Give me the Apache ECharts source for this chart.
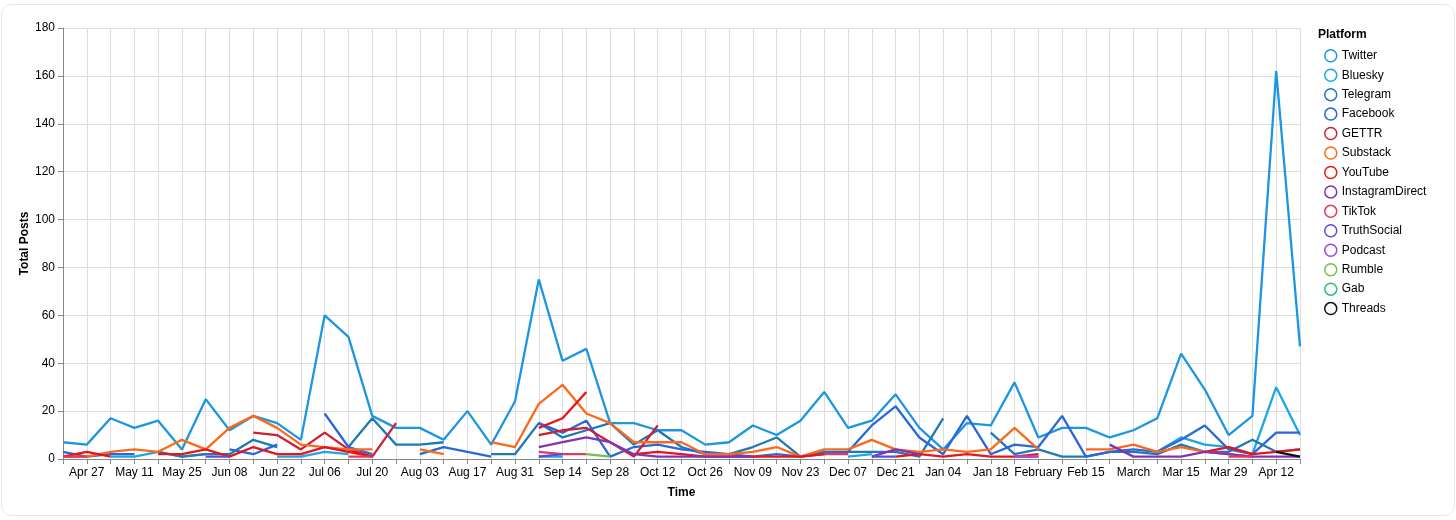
<!DOCTYPE html>
<html>
<head>
<meta charset="utf-8">
<script src="https://cdn.jsdelivr.net/npm/echarts@6/dist/echarts.min.js"></script>
<style>
  html, body { margin: 0; padding: 0; background: #fff; }
  #frame { position: absolute; left: 1px; top: 4px; width: 1452px; height: 510px; border: 1px solid #e4e4ee; border-radius: 10px; }
  #chart { position: absolute; left: 0; top: 0; width: 1456px; height: 520px; }
</style>
</head>
<body>
<div id="frame"></div>
<div id="chart"></div>
<script>
const n = null;
// Weekly categories (Apr 20, 2025 .. Apr 19, 2026)
const categories = [
  'Apr 20','Apr 27','May 04','May 11','May 18','May 25','Jun 01','Jun 08','Jun 15','Jun 22',
  'Jun 29','Jul 06','Jul 13','Jul 20','Jul 27','Aug 03','Aug 10','Aug 17','Aug 24','Aug 31',
  'Sep 07','Sep 14','Sep 21','Sep 28','Oct 05','Oct 12','Oct 19','Oct 26','Nov 02','Nov 09',
  'Nov 16','Nov 23','Nov 30','Dec 07','Dec 14','Dec 21','Dec 28','Jan 04','Jan 11','Jan 18',
  'Jan 25','February','Feb 08','Feb 15','Feb 22','March','Mar 08','Mar 15','Mar 22','Mar 29',
  'Apr 05','Apr 12','Apr 19'
];
const yTicks = [0, 20, 40, 60, 80, 100, 120, 140, 160, 180];

const twitter = [
  7, 6, 17, 13, 16, 4, 25, 12, 18, 15,
  8, 60, 51, 18, 13, 13, 8, 20, 6, 24,
  75, 41, 46, 15, 15, 12, 12, 6, 7, 14,
  10, 16, 28, 13, 16, 27, 13, 4, 15, 14,
  32, 9, 13, 13, 9, 12, 17, 44, 29, 10,
  18, 162, 47
];
const bluesky = [
  n, n, 1, 1, 3, 1, 2, n, n, 1,
  1, 3, 2, n, n, n, n, n, n, n,
  1, 1, n, n, n, n, n, n, n, n,
  n, n, n, 1, 2, n, n, n, n, n,
  n, n, n, n, n, n, 3, 9, 6, 5,
  2, 30, 10
];
const telegram = [
  n, n, n, n, 3, 1, 2, 2, 8, 5,
  n, n, 5, 17, 6, 6, 7, n, 2, 2,
  15, 9, 12, 15, 6, 12, 5, 2, 2, 5,
  9, 1, 3, 3, 3, 3, 1, 17, n, 11,
  2, 4, 1, 1, 3, 3, 2, 6, 3, 3,
  8, 3, 4
];
const facebook = [
  3, 1, 2, 2, n, n, n, 4, 2, 6,
  n, 19, 5, 2, n, 2, 5, 3, 1, n,
  15, 11, 16, 1, 5, 6, 4, 3, 2, 1,
  2, 1, 2, 3, 14, 22, 9, 2, 18, 2,
  6, 5, 18, 1, 3, 4, 3, 8, 14, 4,
  2, 11, 11
];
const gettr = [
  n, n, n, n, n, n, n, n, 11, 10,
  4, 11, 4, 1, 15, n, n, n, n, n,
  10, 12, 13, 7, 1, 14, n, n, n, n,
  n, n, n, n, n, n, n, n, n, n,
  n, n, n, n, n, n, n, n, n, n,
  n, n, n
];
const substack = [
  1, 1, 3, 4, 3, 8, 4, 13, 18, 13,
  6, 5, 4, 4, n, 4, 2, n, 7, 5,
  23, 31, 19, 15, 7, 7, 7, 2, 2, 3,
  5, 1, 4, 4, 8, 4, 3, 4, 3, 4,
  13, 4, n, 4, 4, 6, 3, 5, 3, 2,
  1, n, n
];
const youtube = [
  1, 3, 1, n, 2, 2, 4, 1, 5, 2,
  2, 5, 3, 1, n, n, n, n, n, n,
  13, 17, 28, n, 2, 3, 2, 1, 1, 1,
  1, 1, 2, n, n, 1, 2, 1, 2, 1,
  1, 2, n, n, n, n, n, n, 3, 5,
  2, 3, 4
];
const instagramDirect = [
  n, n, n, n, n, n, n, n, n, n,
  n, n, n, n, n, n, n, n, n, n,
  5, 7, 9, 7, 2, 1, 1, 1, 1, 1,
  n, n, n, n, 1, 4, 2, n, n, n,
  n, n, n, n, 6, 1, 1, 1, 3, 2,
  1, 1, 1
];
const tiktok = [
  1, 1, n, n, n, n, n, n, n, n,
  n, n, 1, 1, n, n, n, n, n, n,
  3, 2, 2, n, n, n, n, n, n, n,
  n, n, 2, 2, n, n, n, n, n, n,
  1, 1, n, n, n, n, n, n, n, 1,
  1, n, n
];
const truthSocial = [
  n, n, n, n, n, n, 1, 1, n, n,
  n, n, n, n, n, n, n, n, n, n,
  1, 2, n, n, n, n, n, n, n, n,
  n, n, n, n, 1, 1, n, n, n, n,
  n, n, n, n, n, n, n, n, n, n,
  n, n, n
];
const podcast = [
  n, n, n, n, n, n, n, n, n, n,
  n, n, n, n, n, n, n, n, n, n,
  n, n, n, n, n, n, n, n, n, n,
  n, n, n, n, n, n, n, n, n, n,
  1, 1, n, n, n, n, n, n, n, n,
  n, n, n
];
const rumble = [
  n, n, n, n, n, n, n, n, n, n,
  n, n, n, n, n, n, n, n, n, n,
  n, n, 2, 1, n, n, n, n, n, n,
  n, n, n, n, n, n, n, n, n, n,
  n, n, n, n, n, n, n, n, n, n,
  n, n, n
];
const gab = [
  n, n, n, n, n, n, n, n, n, n,
  n, n, n, n, n, n, n, n, n, n,
  n, n, n, n, n, n, n, n, n, n,
  n, n, n, n, n, n, n, n, n, n,
  n, n, n, n, n, n, n, n, n, n,
  n, n, n
];
const threads = [
  n, n, n, n, n, n, n, n, n, n,
  n, n, n, n, n, n, n, n, n, n,
  n, n, n, n, n, n, n, n, n, n,
  n, n, n, n, n, n, n, n, n, n,
  n, n, n, n, n, n, n, n, n, n,
  n, 3, 1
];

const platforms = ['Twitter','Bluesky','Telegram','Facebook','GETTR','Substack','YouTube','InstagramDirect','TikTok','TruthSocial','Podcast','Rumble','Gab','Threads'];
const seriesData = [twitter, bluesky, telegram, facebook, gettr, substack, youtube, instagramDirect, tiktok, truthSocial, podcast, rumble, gab, threads];
const colors = ['#1d96e2','#1ea6e4','#1f79b6','#2a68d8','#cf1f35','#fb6a1a','#e8141c','#8234b4','#e23a5e','#5a4fd8','#a04bd2','#72c04c','#2fbf7a','#111111'];

const FONT = 'Liberation Sans, Arial, sans-serif';
const chart = echarts.init(document.getElementById('chart'), null, { renderer: 'canvas' });
chart.setOption({
  animation: false,
  color: colors,
  title: {
    text: 'Platform', left: 1313, top: 24,
    textStyle: { fontFamily: FONT, fontSize: 12, fontWeight: 'bold', color: '#000' }
  },
  legend: {
    orient: 'vertical', left: 1319, top: 44,
    icon: 'circle', itemWidth: 12, itemHeight: 12, itemGap: 5.95,
    textStyle: { fontFamily: FONT, fontSize: 12, color: '#000' },
    data: platforms.map((name, k) => ({
      name,
      itemStyle: { color: '#ffffff', borderColor: colors[k], borderWidth: 1.5 }
    }))
  },
  grid: { left: 63, right: 156, top: 28, bottom: 61, containLabel: false },
  xAxis: {
    type: 'category', data: categories, boundaryGap: false,
    name: 'Time', nameLocation: 'middle', nameGap: 28, nameMoveOverlap: false,
    nameTextStyle: { fontFamily: FONT, fontSize: 12, fontWeight: 'bold', color: '#000' },
    axisLine: { lineStyle: { color: '#888', width: 1 } },
    axisTick: { show: true, interval: 0, length: 5, lineStyle: { color: '#888' } },
    axisLabel: {
      interval: (i) => i % 2 === 1,
      fontFamily: FONT, fontSize: 12, color: '#000', margin: 8
    },
    splitLine: { show: true, interval: 0, lineStyle: { color: '#ddd', width: 1 } }
  },
  yAxis: {
    type: 'value', min: yTicks[0], max: yTicks[yTicks.length - 1], interval: 20,
    name: 'Total Posts', nameLocation: 'middle', nameGap: 32, nameRotate: 90, nameMoveOverlap: false,
    nameTextStyle: { fontFamily: FONT, fontSize: 12, fontWeight: 'bold', color: '#000' },
    axisLine: { show: true, lineStyle: { color: '#888', width: 1 } },
    axisTick: { show: true, length: 5, lineStyle: { color: '#888' } },
    axisLabel: { fontFamily: FONT, fontSize: 12, color: '#000', margin: 8 },
    splitLine: { show: true, lineStyle: { color: '#ddd', width: 1 } }
  },
  series: platforms.map((name, k) => ({
    name, type: 'line', data: seriesData[k],
    showSymbol: false, symbol: 'none', connectNulls: false,
    lineStyle: { width: 2.3, color: colors[k] },
    itemStyle: { color: colors[k] }
  }))
});
</script>
</body>
</html>
